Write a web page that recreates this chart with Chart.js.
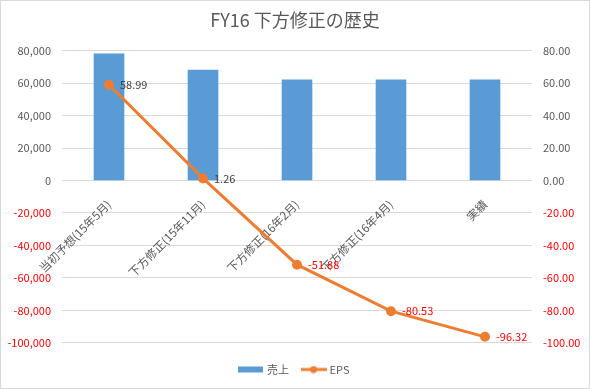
<!DOCTYPE html>
<html>
<head>
<meta charset="utf-8">
<script src="https://cdn.jsdelivr.net/npm/chart.js@4"></script>
<style>
  html, body { margin: 0; padding: 0; background: #fff; }
  #wrap { width: 590px; height: 389px; box-sizing: border-box; border: 1px solid #d9d9d9; }
  #chart { display: block; }
</style>
</head>
<body>
<div id="wrap"><canvas id="chart" width="588" height="387"></canvas></div>
<script>
const categories = ["当初予想(15年5月)", "下方修正(15年11月)", "下方修正(16年2月)", "下方修正(16年4月)", "実績"];
const salesValues = [78000, 68000, 62000, 62000, 62000];
const epsValues = [58.99, 1.26, -51.88, -80.53, -96.32];

const FONT = "'Noto Sans CJK JP', 'Noto Sans', sans-serif";
const GRAY = "#595959";
const RED = "#ff0000";
const BLUE = "#5b9bd5";
const ORANGE = "#ed7d31";

function legendIcon(kind) {
  const c = document.createElement("canvas");
  c.width = 26;
  c.height = 8;
  const g = c.getContext("2d");
  if (kind === "bar") {
    g.fillStyle = BLUE;
    g.fillRect(0, 1, 25, 6);
  } else {
    g.strokeStyle = ORANGE;
    g.lineWidth = 3;
    g.beginPath();
    g.moveTo(0, 4);
    g.lineTo(26, 4);
    g.stroke();
    g.fillStyle = ORANGE;
    g.beginPath();
    g.arc(13, 4, 3.5, 0, Math.PI * 2);
    g.fill();
  }
  return c;
}

function formatThousands(v) {
  return v.toLocaleString("en-US");
}

// draws the EPS values next to each point
const pointLabels = {
  id: "pointLabels",
  afterDatasetsDraw(chart) {
    const ctx = chart.ctx;
    const meta = chart.getDatasetMeta(1);
    ctx.save();
    ctx.font = "11px " + FONT;
    ctx.textAlign = "left";
    ctx.textBaseline = "middle";
    meta.data.forEach((pt, i) => {
      const v = epsValues[i];
      ctx.fillStyle = v < 0 ? RED : "#404040";
      ctx.fillText(v.toFixed(2), pt.x + 11, pt.y);
    });
    ctx.restore();
  }
};

const data = {
  labels: categories,
  datasets: [
    {
      type: "bar",
      label: "売上",
      data: salesValues,
      backgroundColor: BLUE,
      yAxisID: "y",
      barThickness: 30,
      order: 2
    },
    {
      type: "line",
      label: "EPS",
      data: epsValues,
      borderColor: ORANGE,
      backgroundColor: ORANGE,
      borderWidth: 3,
      pointRadius: 3.5,
      pointHoverRadius: 3.5,
      pointStyle: "circle",
      yAxisID: "y1",
      order: 1
    }
  ]
};

const config = {
  type: "bar",
  data: data,
  options: {
    responsive: false,
    animation: false,
    layout: { padding: { left: 0, right: 0, top: 0, bottom: 3 } },
    plugins: {
      title: {
        display: true,
        text: "FY16 下方修正の歴史",
        color: GRAY,
        font: { family: FONT, size: 18, weight: "normal" },
        padding: { top: 8, bottom: 20 }
      },
      legend: {
        position: "bottom",
        title: {
          display: true,
          text: " ",
          font: { size: 1 },
          padding: { top: 6, bottom: 0 }
        },
        labels: {
          color: GRAY,
          font: { family: FONT, size: 11 },
          usePointStyle: true,
          pointStyleWidth: 21,
          boxHeight: 8,
          padding: 14,
          generateLabels(chart) {
            return chart.data.datasets.map((ds, i) => ({
              text: ds.label,
              fontColor: GRAY,
              pointStyle: i === 0 ? legendIcon("bar") : legendIcon("line"),
              datasetIndex: i,
              hidden: false,
              lineWidth: 0
            }));
          }
        }
      },
      tooltip: { enabled: false }
    },
    scales: {
      x: {
        position: { y: 0 },
        grid: { display: false },
        border: { display: false },
        ticks: {
          color: GRAY,
          font: { family: FONT, size: 11.5 },
          minRotation: 45,
          maxRotation: 45,
          autoSkip: false,
          padding: 9
        }
      },
      y: {
        position: "left",
        min: -100000,
        max: 80000,
        grid: { color: "#d9d9d9", drawTicks: false },
        border: { display: false },
        afterFit(scale) { scale.width = 61; },
        ticks: {
          stepSize: 20000,
          padding: 11,
          font: { family: FONT, size: 11 },
          color: (c) => (c.tick.value < 0 ? RED : GRAY),
          callback: (v) => formatThousands(v)
        }
      },
      y1: {
        position: "right",
        min: -100,
        max: 80,
        grid: { display: false, drawTicks: false },
        border: { display: false },
        afterFit(scale) { scale.width = 57; },
        ticks: {
          stepSize: 20,
          padding: 11,
          font: { family: FONT, size: 11 },
          color: (c) => (c.tick.value < 0 ? RED : GRAY),
          callback: (v) => Number(v).toFixed(2)
        }
      }
    }
  },
  plugins: [pointLabels]
};

new Chart(document.getElementById("chart"), config);
</script>
</body>
</html>
